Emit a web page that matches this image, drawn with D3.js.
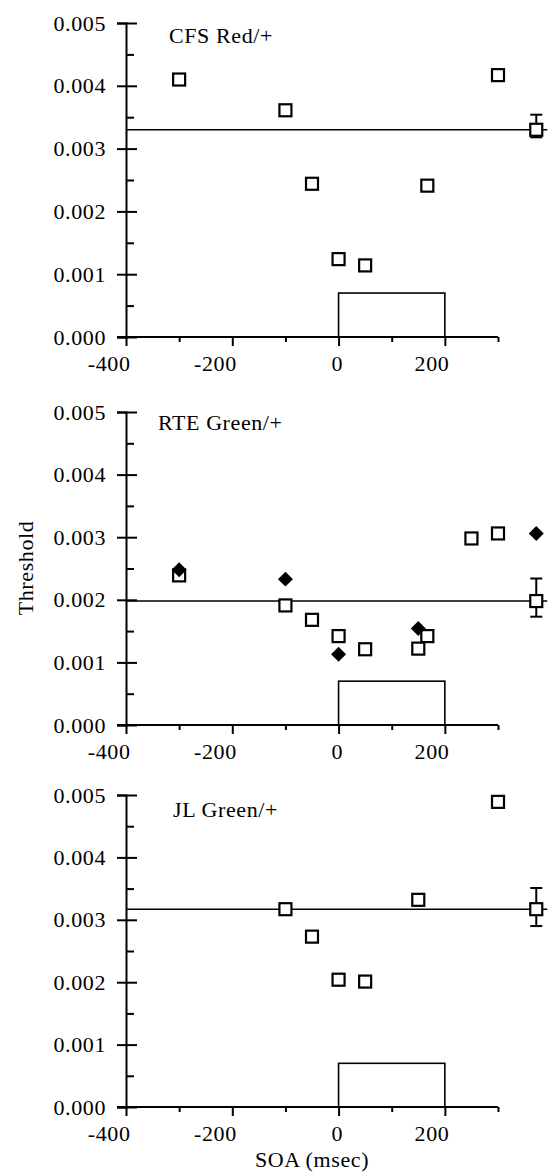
<!DOCTYPE html>
<html>

<head>
    <script src="https://d3js.org/d3.v7.min.js"></script>
    <style>
        body { margin: 0; background: #fff; }
        svg text { font-family: "Liberation Serif", serif !important; fill: #000; }
    </style>
</head>

<body>
    <script>
        // panel titles
        const panelNames = ["CFS Red/+", "RTE Green/+", "JL Green/+"];

        // open squares, one array per panel
        const cfsSoa = [-300, -100, -50, 0, 50, 167, 300];
        const cfsThreshold = [0.0041, 0.00361, 0.00244, 0.00124, 0.00114, 0.00241, 0.00417];
        const rteSoa = [-300, -100, -50, 0, 50, 150, 167, 250, 300];
        const rteThreshold = [0.00239, 0.00191, 0.00168, 0.00142, 0.00121, 0.00122, 0.00142, 0.00298, 0.00306];
        const jlSoa = [-100, -50, 0, 50, 150, 300];
        const jlThreshold = [0.00317, 0.00273, 0.00204, 0.00201, 0.00332, 0.00489];

        // filled diamonds (RTE only), the last one sits at the mean position
        const rteFilledSoa = [-300, -100, 0, 150, 372];
        const rteFilledThreshold = [0.00248, 0.00233, 0.00113, 0.00154, 0.00306];

        // mean value with error bar, drawn to the right of the axis
        const meanSoa = 372;
        const meanThreshold = [0.0033, 0.00198, 0.00317];
        const errLow = [0.00318, 0.00173, 0.0029];
        const errHigh = [0.00354, 0.00234, 0.00351];

        // stimulus window box
        const stimStart = 0, stimEnd = 200, stimHeight = 0.0007;

        // tick values
        const soaMajor = [-400, -200, 0, 200];
        const soaMinor = [-300, -100, 100, 300];
        const thrMajor = [0, 0.001, 0.002, 0.003, 0.004, 0.005];
        const thrMinor = [0.0005, 0.0015, 0.0025, 0.0035, 0.0045];

        const panels = [
            { soa: cfsSoa, thr: cfsThreshold, filledSoa: [], filledThr: [] },
            { soa: rteSoa, thr: rteThreshold, filledSoa: rteFilledSoa, filledThr: rteFilledThreshold },
            { soa: jlSoa, thr: jlThreshold, filledSoa: [], filledThr: [] }
        ];

        const width = 550, height = 1172;
        const tops = [23, 412, 795], bottoms = [337, 725, 1107];
        const titleX = [169, 158, 173], titleDy = [20, 18, 22];

        const svg = d3.select("body").append("svg")
            .attr("width", width)
            .attr("height", height);

        const x = d3.scaleLinear().domain([-400, 300]).range([126, 498]);

        panels.forEach((p, k) => {
            const y = d3.scaleLinear().domain([0, 0.005]).range([bottoms[k], tops[k]]);
            const g = svg.append("g");

            // stimulus box
            g.append("rect")
                .attr("x", x(stimStart))
                .attr("y", y(stimHeight))
                .attr("width", x(stimEnd) - x(stimStart))
                .attr("height", y(0) - y(stimHeight))
                .attr("fill", "none")
                .attr("stroke", "#000")
                .attr("stroke-width", 1.6);

            // mean line
            g.append("line")
                .attr("x1", x(-400)).attr("x2", x(meanSoa) + 11)
                .attr("y1", y(meanThreshold[k])).attr("y2", y(meanThreshold[k]))
                .attr("stroke", "#000").attr("stroke-width", 1.6);

            // y axis: labels + outer ticks
            const yAxis = g.append("g")
                .attr("transform", `translate(${x(-400)},0)`)
                .call(d3.axisLeft(y).tickValues(thrMajor).tickSize(9).tickPadding(11)
                    .tickFormat(d3.format(".3f")));
            // inner ticks (major and minor)
            g.append("g")
                .attr("transform", `translate(${x(-400)},0)`)
                .call(d3.axisRight(y).tickValues(thrMajor).tickSize(11).tickFormat(""))
                .call(a => a.select(".domain").remove());
            g.append("g")
                .attr("transform", `translate(${x(-400)},0)`)
                .call(d3.axisRight(y).tickValues(thrMinor).tickSize(8).tickFormat(""))
                .call(a => a.select(".domain").remove());

            // x axis
            const xAxis = g.append("g")
                .attr("transform", `translate(0,${y(0)})`)
                .call(d3.axisBottom(x).tickValues(soaMajor).tickSize(9).tickPadding(9)
                    .tickFormat(d => String(d)));
            xAxis.select(".domain").remove();
            xAxis.selectAll("text").attr("text-anchor", "end").attr("dx", 4);
            g.append("g")
                .attr("transform", `translate(0,${y(0)})`)
                .call(d3.axisBottom(x).tickValues(soaMinor).tickSize(5).tickFormat(""))
                .call(a => a.select(".domain").remove());
            g.append("line")
                .attr("x1", x(-400) - 9).attr("x2", x(300))
                .attr("y1", y(0)).attr("y2", y(0))
                .attr("stroke", "#000").attr("stroke-width", 2);

            g.selectAll("g").attr("font-family", null).attr("font-size", null);
            g.selectAll(".tick line").attr("stroke-width", 2);
            yAxis.select(".domain").attr("stroke-width", 2);
            g.selectAll(".tick text")
                .style("font-size", "22px")
                .style("letter-spacing", "0.6px");

            // panel title
            g.append("text")
                .attr("x", titleX[k])
                .attr("y", tops[k] + titleDy[k])
                .style("font-size", "22px")
                .style("letter-spacing", "0.6px")
                .text(panelNames[k]);

            // error bar
            const ex = x(meanSoa);
            g.append("line")
                .attr("x1", ex).attr("x2", ex)
                .attr("y1", y(errLow[k])).attr("y2", y(errHigh[k]))
                .attr("stroke", "#000").attr("stroke-width", 2);
            [errLow[k], errHigh[k]].forEach(v => {
                g.append("line")
                    .attr("x1", ex - 6).attr("x2", ex + 6)
                    .attr("y1", y(v)).attr("y2", y(v))
                    .attr("stroke", "#000").attr("stroke-width", 2);
            });

            // open squares (data + mean)
            const pts = p.soa.map((s, i) => ({ s: s, v: p.thr[i] }));
            pts.push({ s: meanSoa, v: meanThreshold[k] });
            g.selectAll("rect.pt")
                .data(pts)
                .enter().append("rect")
                .attr("class", "pt")
                .attr("x", d => x(d.s) - 6)
                .attr("y", d => y(d.v) - 6)
                .attr("width", 12)
                .attr("height", 12)
                .attr("fill", "#fff")
                .attr("stroke", "#000")
                .attr("stroke-width", 2.2);

            // filled diamonds
            const dia = p.filledSoa.map((s, i) => ({ s: s, v: p.filledThr[i] }));
            g.selectAll("path.dia")
                .data(dia)
                .enter().append("path")
                .attr("class", "dia")
                .attr("d", d3.symbol(d3.symbolSquare, 112))
                .attr("transform", d => `translate(${x(d.s)},${y(d.v)}) rotate(45)`)
                .attr("fill", "#000");
        });

        // shared axis titles
        svg.append("text")
            .attr("transform", "translate(33,568) rotate(-90)")
            .attr("text-anchor", "middle")
            .style("font-size", "22px")
            .style("letter-spacing", "0.6px")
            .text("Threshold");

        svg.append("text")
            .attr("x", d3.mean(x.range()))
            .attr("y", 1167)
            .attr("text-anchor", "middle")
            .style("font-size", "22px")
            .style("letter-spacing", "0.6px")
            .text("SOA (msec)");
    </script>
</body>

</html>
